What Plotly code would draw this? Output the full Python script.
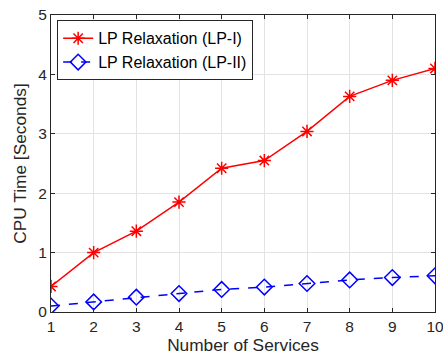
import plotly.graph_objects as go

services = [1, 2, 3, 4, 5, 6, 7, 8, 9, 10]
lp1 = [0.43, 1.0, 1.36, 1.85, 2.42, 2.55, 3.04, 3.63, 3.90, 4.10]
lp2 = [0.10, 0.17, 0.25, 0.31, 0.38, 0.42, 0.48, 0.54, 0.58, 0.61]
names = ["LP Relaxation (LP-I)", "LP Relaxation (LP-II)"]

fig = go.Figure()
fig.add_trace(go.Scatter(x=services, y=lp1, name=names[0], mode="lines+markers",
                         line=dict(color="#ff0000", width=1.5),
                         marker=dict(symbol="asterisk-open", size=11, color="#ff0000",
                                     line=dict(color="#ff0000", width=1.5))))
fig.add_trace(go.Scatter(x=services, y=lp2, name=names[1], mode="lines+markers",
                         line=dict(color="#0000ff", width=1.5, dash="dash"),
                         marker=dict(symbol="diamond-open", size=12, color="#0000ff",
                                     line=dict(color="#0000ff", width=1.5))))

axis_common = dict(showline=True, linecolor="#262626", linewidth=1, mirror="ticks",
                   ticks="inside", ticklen=4, tickcolor="#262626", automargin=False,
                   ticklabeloverflow="allow",
                   showgrid=True, gridcolor="#e3e3e3", gridwidth=1, zeroline=False,
                   tickfont=dict(family="Liberation Sans, Arial", size=15.5, color="#262626"))

fig.update_layout(
    width=443, height=358,
    margin=dict(l=51, r=8, t=15, b=46),
    paper_bgcolor="white", plot_bgcolor="white",
    font=dict(family="Liberation Sans, Arial", size=15.5, color="#262626"),
    xaxis=dict(range=[1, 10], dtick=1,
               title=dict(text="Number of Services", standoff=5,
                          font=dict(size=17.3, color="#262626")),
               **axis_common),
    yaxis=dict(range=[0, 5], dtick=1,
               title=dict(text="CPU Time [Seconds]", standoff=7,
                          font=dict(size=17.3, color="#262626")),
               **axis_common),
    legend=dict(x=0.016, y=0.982, xanchor="left", yanchor="top",
                bgcolor="white", bordercolor="#262626", borderwidth=1,
                font=dict(size=16, color="#000000"),
                tracegroupgap=0, itemwidth=30),
    showlegend=True,
)

fig.write_html("out.html")
